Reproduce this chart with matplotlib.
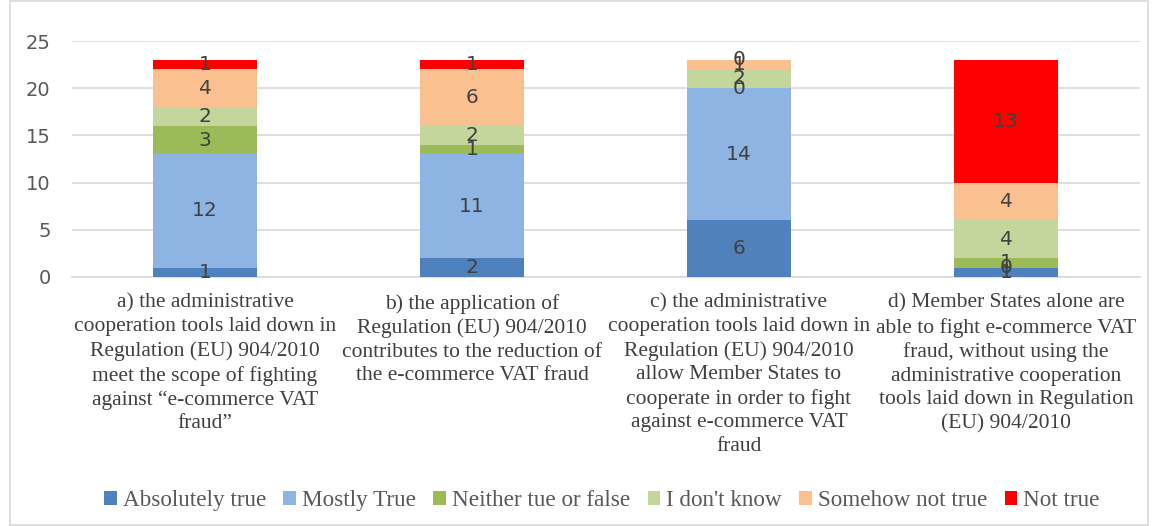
import matplotlib.pyplot as plt
import numpy as np
from matplotlib.patches import Rectangle

categories = [
    'a) the administrative\ncooperation tools laid down in\nRegulation (EU) 904/2010\nmeet the scope of fighting\nagainst \u201ce-commerce VAT\nfraud\u201d',
    'b) the application of\nRegulation (EU) 904/2010\ncontributes to the reduction of\nthe e-commerce VAT fraud',
    'c) the administrative\ncooperation tools laid down in\nRegulation (EU) 904/2010\nallow Member States to\ncooperate in order to fight\nagainst e-commerce VAT\nfraud',
    'd) Member States alone are\nable to fight e-commerce VAT\nfraud, without using the\nadministrative cooperation\ntools laid down in Regulation\n(EU) 904/2010',
]
series_names = ['Absolutely true', 'Mostly True', 'Neither tue or false',
                "I don't know", 'Somehow not true', 'Not true']
absolutely_true = [1, 2, 6, 1]
mostly_true = [12, 11, 14, 0]
neither = [3, 1, 0, 1]
dont_know = [2, 2, 2, 4]
somehow_not = [4, 6, 1, 4]
not_true = [1, 1, 0, 13]
colors = ['#4f81bd', '#8eb4e3', '#9bbb59', '#c3d69b', '#fac090', '#ff0000']

series = [absolutely_true, mostly_true, neither, dont_know, somehow_not, not_true]

fig = plt.figure(figsize=(11.53, 5.26), dpi=100)
ax = fig.add_axes([71.5 / 1153, 249 / 526, 1068 / 1153, 236 / 526])

x = np.arange(len(categories))
bottom = np.zeros(len(categories))
for name, vals, col in zip(series_names, series, colors):
    vals = np.array(vals, dtype=float)
    bars = ax.bar(x, vals, 0.39, bottom=bottom, color=col, label=name, zorder=3)
    for xi, b, v in zip(x, bottom, vals):
        ax.text(xi, b + v / 2, '%d' % v, ha='center', va='center',
                fontsize=14.5, color='#404040', zorder=4)
    bottom += vals

ax.set_xlim(-0.5, 3.5)
ax.set_ylim(0, 25)
ax.set_yticks([0, 5, 10, 15, 20, 25])
ax.yaxis.grid(True, color='#d9d9d9', linewidth=1.2, zorder=0)
for s in ['top', 'right', 'left']:
    ax.spines[s].set_visible(False)
ax.spines['bottom'].set_color('#d9d9d9')
ax.spines['bottom'].set_linewidth(1.2)
ax.tick_params(axis='y', length=0, labelsize=14, labelcolor='#595959', pad=15)
ax.tick_params(axis='x', length=0, pad=12)
ax.set_xticks(x)
ax.set_xticklabels(categories, fontsize=15.5, family='Liberation Serif',
                   color='#404040', linespacing=1.32, va='top')

fig.legend(loc='lower center', ncol=6, frameon=False, bbox_to_anchor=(0.522, -0.012),
           prop={'family': 'Liberation Serif', 'size': 16.7}, labelcolor='#595959',
           handlelength=0.55, handleheight=0.55, handletextpad=0.25, columnspacing=0.75)

fig.patches.append(Rectangle((10 / 1153, 0.002), 1138 / 1153, 0.996, transform=fig.transFigure,
                             fill=False, edgecolor='#d9d9d9', linewidth=1.2))

fig.savefig('out.png', dpi=100)
